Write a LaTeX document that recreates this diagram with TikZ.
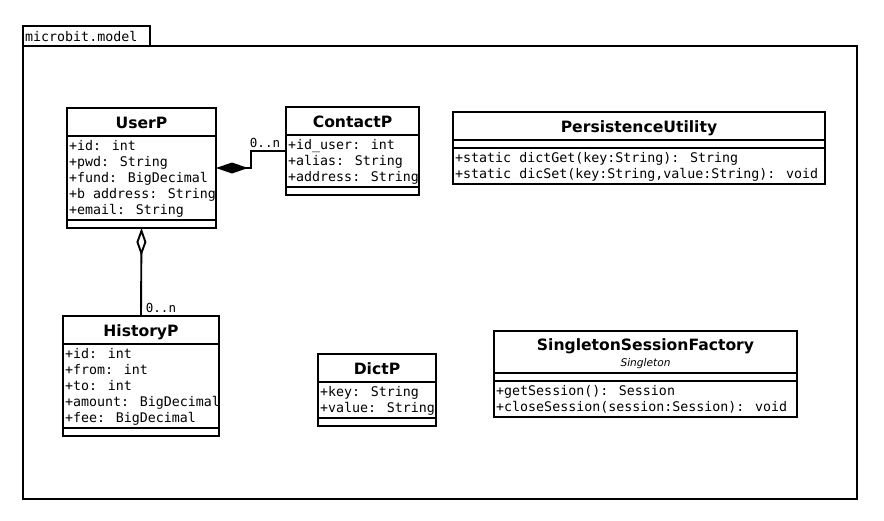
\documentclass[tikz,border=0pt]{standalone}
\usepackage{fontspec}
\setmainfont{DejaVu Sans}
\newfontfamily\monof{DejaVu Sans Mono}
\usetikzlibrary{arrows.meta}
\tikzset{
  ln/.style={line width=1.9pt},
  cbox/.style={draw, line width=1.9pt, rectangle, inner sep=0pt, outer sep=0pt, anchor=north west, fill=white},
  ttl/.style={font=\fontsize{15.6}{18}\selectfont\bfseries, anchor=base, inner sep=0pt},
  stereo/.style={font=\fontsize{10.6}{12}\selectfont\itshape, anchor=base, inner sep=0pt},
  mem/.style={font=\fontsize{13.3}{16}\monof, anchor=base west, inner sep=0pt},
  mult/.style={font=\fontsize{12.5}{15}\monof, anchor=base, inner sep=0pt},
}
\begin{document}
\begin{tikzpicture}[x=1pt,y=-1pt]
\useasboundingbox (0,0) rectangle (884,520);
% package
\node[cbox, minimum width=127pt, minimum height=20pt] (tab) at (23,26) {};
\node[mem] (pkgname) at (25,41) {microbit.model};
\node[cbox, fill=none, minimum width=834pt, minimum height=453pt] (pkg) at (23,46) {};

% UserP
\node[cbox, minimum width=149pt, minimum height=120pt] (user) at (67,108) {};
\draw[ln] (67,136) -- (216,136) (67,220) -- (216,220);
\node[ttl] (usert) at (141.5,128) {UserP};
\node[mem] (ua1) at (69,150) {+id: int};
\node[mem] (ua2) at (69,166) {+pwd: String};
\node[mem] (ua3) at (69,182) {+fund: BigDecimal};
\node[mem] (ua4) at (69,198) {+b address: String};
\node[mem] (ua5) at (69,214) {+email: String};

% ContactP
\node[cbox, minimum width=133pt, minimum height=88pt] (contact) at (286,107) {};
\draw[ln] (286,135) -- (419,135) (286,187) -- (419,187);
\node[ttl] (contactt) at (352.5,127) {ContactP};
\node[mem] (ca1) at (288,149) {+id\_user: int};
\node[mem] (ca2) at (288,165) {+alias: String};
\node[mem] (ca3) at (288,181) {+address: String};

% PersistenceUtility
\node[cbox, minimum width=372pt, minimum height=72pt] (pers) at (453,112) {};
\draw[ln] (453,140) -- (825,140) (453,148) -- (825,148);
\node[ttl] (perst) at (639,132) {PersistenceUtility};
\node[mem] (pm1) at (455,162) {+static dictGet(key:String): String};
\node[mem] (pm2) at (455,178) {+static dicSet(key:String,value:String): void};

% HistoryP
\node[cbox, minimum width=156pt, minimum height=120pt] (hist) at (63,316) {};
\draw[ln] (63,344) -- (219,344) (63,428) -- (219,428);
\node[ttl] (histt) at (141,336) {HistoryP};
\node[mem] (ha1) at (65,358) {+id: int};
\node[mem] (ha2) at (65,374) {+from: int};
\node[mem] (ha3) at (65,390) {+to: int};
\node[mem] (ha4) at (65,406) {+amount: BigDecimal};
\node[mem] (ha5) at (65,422) {+fee: BigDecimal};

% DictP
\node[cbox, minimum width=118pt, minimum height=72pt] (dict) at (318,354) {};
\draw[ln] (318,382) -- (436,382) (318,418) -- (436,418);
\node[ttl] (dictt) at (377,374) {DictP};
\node[mem] (da1) at (320,396) {+key: String};
\node[mem] (da2) at (320,412) {+value: String};

% SingletonSessionFactory
\node[cbox, minimum width=303pt, minimum height=86pt] (ssf) at (494,331) {};
\draw[ln] (494,373) -- (797,373) (494,381) -- (797,381);
\node[ttl] (ssft) at (645.5,350) {SingletonSessionFactory};
\node[stereo] (ssfs) at (645.5,366) {Singleton};
\node[mem] (sm1) at (496,395) {+getSession(): Session};
\node[mem] (sm2) at (496,411) {+closeSession(session:Session): void};

% connectors
\draw[ln, {Diamond[length=32pt,width=11pt]}-] (user.east) -- ++(35,0) |- (contact.west);
\node[mult] (m1) at (265,147) {0..n};
\draw[ln, {Diamond[open,length=28pt,width=10pt]}-] (user.south) -- (hist.north);
\node[mult] (m2) at (161,312) {0..n};
\end{tikzpicture}
\end{document}
